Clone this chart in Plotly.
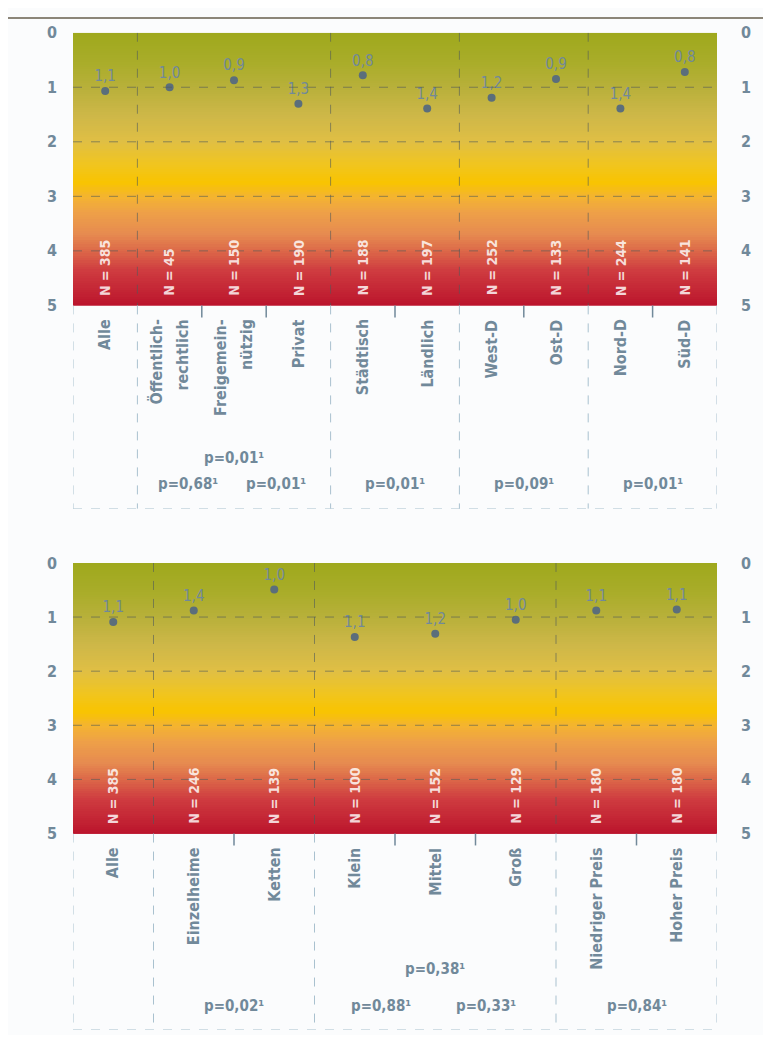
import plotly.graph_objects as go
import numpy as np

# ---- data: upper panel ----
top_cats = ["Alle", "Öffentlich-<br>rechtlich", "Freigemein-<br>nützig", "Privat",
            "Städtisch", "Ländlich", "West-D", "Ost-D", "Nord-D", "Süd-D"]
top_vals = [1.07, 1.0, 0.87, 1.3, 0.78, 1.39, 1.19, 0.85, 1.39, 0.72]
top_labels = ["1,1", "1,0", "0,9", "1,3", "0,8", "1,4", "1,2", "0,9", "1,4", "0,8"]
top_n = [385, 45, 150, 190, 188, 197, 252, 133, 244, 141]
top_groups = [1, 3, 2, 2, 2]
# (text, first category, last category, row)
top_p = [("p=0,01¹", 1, 3, 0), ("p=0,68¹", 1, 2, 1), ("p=0,01¹", 2, 3, 1),
         ("p=0,01¹", 4, 5, 1), ("p=0,09¹", 6, 7, 1), ("p=0,01¹", 8, 9, 1)]

# ---- data: lower panel ----
bot_cats = ["Alle", "Einzelheime", "Ketten", "Klein", "Mittel", "Groß",
            "Niedriger Preis", "Hoher Preis"]
bot_vals = [1.09, 0.88, 0.49, 1.37, 1.31, 1.05, 0.88, 0.86]
bot_labels = ["1,1", "1,4", "1,0", "1,1", "1,2", "1,0", "1,1", "1,1"]
bot_n = [385, 246, 139, 100, 152, 129, 180, 180]
bot_groups = [1, 2, 3, 2]
bot_p = [("p=0,02¹", 1, 2, 1), ("p=0,38¹", 3, 5, 0), ("p=0,88¹", 3, 4, 1),
         ("p=0,33¹", 4, 5, 1), ("p=0,84¹", 6, 7, 1)]

ticks = [0, 1, 2, 3, 4, 5]

FONT = "DejaVu Sans Condensed, Liberation Sans Narrow, sans-serif"
TXT = "#71899a"
DOT = "#5b6e7b"
GRID = "rgba(80,90,90,0.6)"
LIGHT = "#a9c1cf"

scale = [[0.0, "#9fa91c"], [0.1, "#a8ac28"], [0.2, "#b8b03a"], [0.3, "#cdb748"],
         [0.4, "#e0bf44"], [0.48, "#f0c520"], [0.55, "#f8c400"], [0.6, "#f4b430"],
         [0.66, "#eea048"], [0.74, "#e68a50"], [0.8, "#dc6848"], [0.87, "#cf3c40"],
         [1.0, "#bb142c"]]

FW, FH = 755, 1027


def px(sx):
    return (sx - 8) / FW


def py(sy):
    return 1 - (sy - 17.3) / 1015.7


fig = go.Figure()
shapes = []
annotations = []


def panel(xa, ya, yr, cats, vals, labels, ns, groups, pvals, ymax, prow):
    n = len(cats)
    xs = list(range(n))
    edges = np.linspace(0, 5, 121)
    mids = (edges[:-1] + edges[1:]) / 2
    fig.add_trace(go.Heatmap(x=[-0.5, n - 0.5], y=edges, z=[[m] for m in mids],
                             colorscale=scale, zmin=0, zmax=5, showscale=False,
                             hoverinfo="skip", xaxis=xa, yaxis=ya))
    fig.add_trace(go.Scatter(x=xs, y=vals, mode="markers+text", text=labels,
                             textposition="top center",
                             textfont=dict(family=FONT, size=15, color=TXT),
                             marker=dict(size=8, color=DOT), showlegend=False,
                             xaxis=xa, yaxis=ya))
    fig.add_trace(go.Scatter(x=[0], y=[0], mode="markers", marker=dict(opacity=0),
                             hoverinfo="skip", showlegend=False, xaxis=xa, yaxis=yr))
    xr, yref = xa, ya
    for g in [1, 2, 3, 4]:
        shapes.append(dict(type="line", xref=xr, yref=yref, x0=-0.5, x1=n - 0.5,
                           y0=g, y1=g, line=dict(color=GRID, width=1, dash="dash")))
    pos = -0.5
    bounds = []
    for gs in groups[:-1]:
        pos += gs
        bounds.append(pos)
    for b in bounds:
        shapes.append(dict(type="line", xref=xr, yref=yref, x0=b, x1=b, y0=0, y1=5,
                           line=dict(color=GRID, width=1, dash="dash")))
        shapes.append(dict(type="line", xref=xr, yref=yref, x0=b, x1=b, y0=5, y1=ymax,
                           line=dict(color=LIGHT, width=1, dash="dash")))
    for k in range(1, n):
        b = k - 0.5
        if b not in bounds:
            shapes.append(dict(type="line", xref=xr, yref=yref, x0=b, x1=b, y0=5,
                               y1=5.22, line=dict(color=TXT, width=1.5)))
    for b in [-0.5, n - 0.5]:
        shapes.append(dict(type="line", xref=xr, yref=yref, x0=b, x1=b, y0=5, y1=ymax,
                           line=dict(color=LIGHT, width=1, dash="dash")))
    shapes.append(dict(type="line", xref=xr, yref=yref, x0=-0.5, x1=n - 0.5,
                       y0=ymax, y1=ymax, line=dict(color=LIGHT, width=1, dash="dash")))
    for i, c in enumerate(cats):
        lines = c.split("<br>")
        for j, ln in enumerate(lines):
            shift = (j - (len(lines) - 1) / 2) * 26
            annotations.append(dict(xref=xr, yref=yref, x=i, y=5.22, text=ln,
                                    textangle=-90, xanchor="center", yanchor="top",
                                    xshift=shift, showarrow=False,
                                    font=dict(family=FONT, size=16, color=TXT,
                                              weight="bold")))
        annotations.append(dict(xref=xr, yref=yref, x=i, y=4.86, text="N = %d" % ns[i],
                                textangle=-90, xanchor="center", yanchor="bottom",
                                showarrow=False,
                                font=dict(family=FONT, size=14, weight="bold",
                                          color="rgba(255,255,255,0.82)")))
    for txt, a, b, row in pvals:
        xc = (a + b) / 2
        shift = 0
        if row == 1:
            grp_start = 0
            for gs in groups:
                if grp_start <= a < grp_start + gs:
                    gc = grp_start + (gs - 1) / 2
                    if xc < gc:
                        shift = -14
                    elif xc > gc:
                        shift = 10
                grp_start += gs
        annotations.append(dict(xref=xr, yref=yref, x=xc, y=prow[row], text=txt,
                                xanchor="center", yanchor="middle", xshift=shift,
                                showarrow=False,
                                font=dict(family=FONT, size=15, color=TXT,
                                          weight="bold")))


panel("x", "y", "y3", top_cats, top_vals, top_labels, top_n, top_groups, top_p,
      8.73, [7.79, 8.27])
panel("x2", "y2", "y4", bot_cats, bot_vals, bot_labels, bot_n, bot_groups, bot_p,
      8.63, [7.5, 8.19])

shapes.append(dict(type="line", xref="paper", yref="paper", x0=0.0, x1=1,
                   y0=0.999, y1=0.999, line=dict(color="#8c8679", width=2)))

xdom = [px(73), px(717)]
tf = dict(family=FONT, size=16, color=TXT, weight="bold")


def yaxis(dom, ymax, side="left", overlay=None, anchor="x"):
    d = dict(domain=dom, range=[ymax, 0], tickvals=ticks, ticktext=[str(t) for t in ticks],
             showgrid=False, zeroline=False, showline=False, tickfont=tf,
             ticklabelstandoff=15 if side == "left" else 23, side=side, anchor=anchor)
    if overlay:
        d["overlaying"] = overlay
    return d


fig.update_layout(
    width=FW, height=FH, margin=dict(l=0, r=0, t=0, b=0),
    paper_bgcolor="#fbfcfd", plot_bgcolor="rgba(0,0,0,0)",
    showlegend=False,
    xaxis=dict(domain=xdom, range=[-0.5, 9.5], visible=False, anchor="y"),
    xaxis2=dict(domain=xdom, range=[-0.5, 7.5], visible=False, anchor="y2"),
    yaxis=yaxis([py(508), py(33)], 8.73),
    yaxis3=yaxis([py(508), py(33)], 8.73, "right", "y"),
    yaxis2=yaxis([py(1028), py(562)], 8.63, anchor="x2"),
    yaxis4=yaxis([py(1028), py(562)], 8.63, "right", "y2", anchor="x2"),
    shapes=shapes, annotations=annotations,
)

fig.write_html("out.html")
